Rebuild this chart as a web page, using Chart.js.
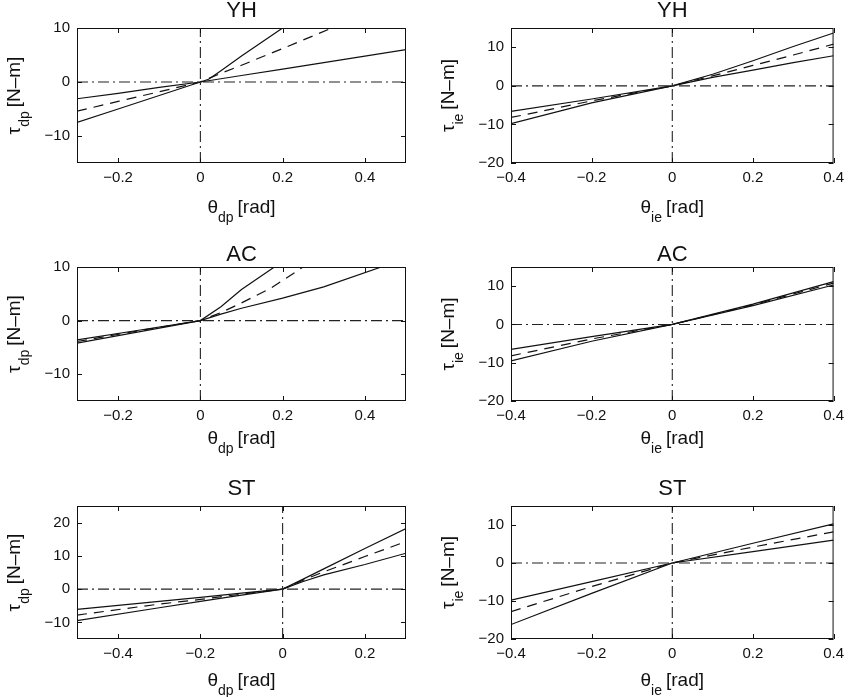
<!DOCTYPE html>
<html>
<head>
<meta charset="utf-8">
<script src="https://cdn.jsdelivr.net/npm/chart.js@4"></script>
<style>
  body { margin: 0; background: #fff; }
  #wrap { position: relative; width: 850px; height: 697px; }
  #wrap canvas { position: absolute; }
</style>
</head>
<body>
<div id="wrap"></div>
<script>
// --- axis ranges and tick labels ---
const dpRangeX = [-0.3, 0.5];
const dpRangeY = [-15, 10];
const dpTicksX = [-0.2, 0, 0.2, 0.4];
const dpTicksY = [-10, 0, 10];

const stDpRangeX = [-0.5, 0.3];
const stDpRangeY = [-15, 25];
const stDpTicksX = [-0.4, -0.2, 0, 0.2];
const stDpTicksY = [-10, 0, 10, 20];

const ieRangeX = [-0.4, 0.4];
const ieRangeY = [-20, 15];
const ieTicksX = [-0.4, -0.2, 0, 0.2, 0.4];
const ieTicksY = [-20, -10, 0, 10];

const panelTitles = ['YH', 'YH', 'AC', 'AC', 'ST', 'ST'];

// --- curves: [theta, tau] ---
const yhDpUpper = [[-0.3,-7.5],[-0.2,-5.0],[-0.1,-2.5],[0,0],[0.02,0.5],[0.05,2.1],[0.1,4.8],[0.15,7.4],[0.2,10]];
const yhDpMid   = [[-0.3,-5.4],[-0.2,-3.6],[-0.1,-1.8],[0,0],[0.05,1.6],[0.1,3.1],[0.2,6.2],[0.32,10]];
const yhDpLower = [[-0.3,-3.1],[-0.2,-2.1],[-0.1,-1.0],[0,0],[0.1,1.2],[0.2,2.4],[0.3,3.6],[0.4,4.8],[0.5,6.0]];

const yhIeUpper = [[-0.4,-9.8],[-0.2,-4.4],[0,0],[0.1,3.0],[0.2,6.5],[0.3,10.2],[0.4,13.7]];
const yhIeMid   = [[-0.4,-8.2],[-0.2,-3.9],[0,0],[0.1,2.6],[0.2,5.3],[0.3,8.0],[0.4,10.8]];
const yhIeLower = [[-0.4,-6.6],[-0.2,-3.4],[0,0],[0.1,2.2],[0.2,4.1],[0.3,6.0],[0.4,7.8]];

const acDpUpper = [[-0.3,-4.2],[-0.15,-2.1],[0,0],[0.05,2.6],[0.1,5.8],[0.14,7.9],[0.18,10]];
const acDpMid   = [[-0.3,-3.9],[-0.15,-1.9],[0,0],[0.05,1.5],[0.1,3.3],[0.17,6.0],[0.25,10]];
const acDpLower = [[-0.3,-3.6],[-0.15,-1.8],[0,0],[0.05,1.2],[0.1,2.3],[0.2,4.2],[0.3,6.3],[0.44,10]];

const acIeUpper = [[-0.4,-9.5],[-0.2,-4.4],[0,0],[0.2,5.3],[0.4,11.2]];
const acIeMid   = [[-0.4,-8.2],[-0.2,-3.8],[0,0],[0.2,5.1],[0.4,10.8]];
const acIeLower = [[-0.4,-6.5],[-0.2,-3.2],[0,0],[0.2,4.9],[0.4,10.3]];

const stDpUpper = [[-0.5,-9.5],[-0.3,-5.6],[-0.2,-3.7],[-0.1,-1.8],[0,0],[0.05,3.0],[0.1,6.1],[0.2,12.2],[0.3,18.2]];
const stDpMid   = [[-0.5,-7.8],[-0.3,-4.5],[-0.2,-3.1],[-0.1,-1.5],[0,0],[0.05,2.7],[0.1,5.2],[0.2,9.8],[0.3,14.3]];
const stDpLower = [[-0.5,-6.1],[-0.3,-3.7],[-0.2,-2.5],[-0.1,-1.2],[0,0],[0.05,2.3],[0.1,4.3],[0.2,7.4],[0.3,10.8]];

const stIeUpper = [[-0.4,-16.2],[-0.2,-8.0],[0,0],[0.2,5.2],[0.4,10.3]];
const stIeMid   = [[-0.4,-12.8],[-0.2,-6.2],[0,0],[0.2,4.2],[0.4,8.2]];
const stIeLower = [[-0.4,-9.8],[-0.2,-4.9],[0,0],[0.2,3.0],[0.4,6.0]];

// --- page layout (px) ---
const colLeft = [77, 511], colRight = [406, 838];
const rowTop = [28, 267, 506], rowBottom = [163, 401, 639];
const canvasTop = [0, 230, 460], canvasH = [230, 230, 237];
const titleBase = [17, 261, 495];
const xLabelBase = [213, 444, 686];
const Y_AXIS_W = 60, X_AXIS_H = 25;
const FONT = '"Liberation Sans", Arial, sans-serif';

Chart.defaults.font.family = FONT;
Chart.defaults.color = '#111';

const fmt = v => v < 0 ? '\u2212' + Math.abs(v) : String(v);
const pts = arr => arr.map(p => ({ x: p[0], y: p[1] }));

// draws box, inward ticks, title and axis labels (with subscripts)
const framePlugin = {
  id: 'frame',
  afterDraw(chart) {
    const o = chart.options.plugins.frame;
    const { ctx, chartArea: a, scales } = chart;
    ctx.save();
    ctx.strokeStyle = '#111';
    ctx.lineWidth = 1;
    ctx.strokeRect(a.left + 0.5, a.top + 0.5, a.right - a.left - 1, a.bottom - a.top - 1);
    ctx.beginPath();
    scales.x.ticks.forEach(t => {
      const px = Math.round(scales.x.getPixelForValue(t.value)) + 0.5;
      ctx.moveTo(px, a.bottom); ctx.lineTo(px, a.bottom - 5);
      ctx.moveTo(px, a.top); ctx.lineTo(px, a.top + 5);
    });
    scales.y.ticks.forEach(t => {
      const py = Math.round(scales.y.getPixelForValue(t.value)) + 0.5;
      ctx.moveTo(a.left, py); ctx.lineTo(a.left + 5, py);
      ctx.moveTo(a.right, py); ctx.lineTo(a.right - 5, py);
    });
    ctx.stroke();

    ctx.fillStyle = '#111';
    const cx = (a.left + a.right) / 2;
    ctx.font = '22px ' + FONT;
    ctx.textAlign = 'center';
    ctx.textBaseline = 'alphabetic';
    ctx.fillText(o.title, cx, o.titleY);

    // label with subscript, drawn left to right from x0 at baseline
    const drawLabel = (sym, sub, rest, x0, base) => {
      ctx.textAlign = 'left';
      ctx.font = '19px ' + FONT;
      ctx.fillText(sym, x0, base);
      let x = x0 + ctx.measureText(sym).width;
      ctx.font = '14px ' + FONT;
      ctx.fillText(sub, x, base + 9);
      x += ctx.measureText(sub).width;
      ctx.font = '19px ' + FONT;
      ctx.fillText(rest, x + 4, base);
    };
    const width = (sym, sub, rest) => {
      ctx.font = '19px ' + FONT;
      let w = ctx.measureText(sym).width + ctx.measureText(rest).width + 4;
      ctx.font = '14px ' + FONT;
      return w + ctx.measureText(sub).width;
    };

    const wx = width('\u03b8', o.sub, '[rad]');
    drawLabel('\u03b8', o.sub, '[rad]', cx - wx / 2, o.xLabelY);

    const cy = (a.top + a.bottom) / 2;
    const wy = width('\u03c4', o.sub, '[N\u2013m]');
    ctx.translate(a.left - 57, cy);
    ctx.rotate(-Math.PI / 2);
    drawLabel('\u03c4', o.sub, '[N\u2013m]', -wy / 2, 0);
    ctx.restore();
  }
};

function curve(data, dashed) {
  return {
    data: pts(data), showLine: true, pointRadius: 0,
    borderColor: '#111', borderWidth: 1.2, borderDash: dashed ? [10, 7] : [],
    tension: 0
  };
}

function zeroLines(rx, ry) {
  const style = { showLine: true, pointRadius: 0, borderColor: '#222', borderWidth: 1.1, borderDash: [11, 4, 2, 4] };
  return [
    Object.assign({ data: [{ x: 0, y: ry[0] }, { x: 0, y: ry[1] }] }, style),
    Object.assign({ data: [{ x: rx[0], y: 0 }, { x: rx[1], y: 0 }] }, style)
  ];
}

function makePanel(idx, sub, rx, ry, tx, ty, curves) {
  const col = idx % 2, row = Math.floor(idx / 2);
  const cLeft = col * 425, cW = 425, cTop = canvasTop[row], cH = canvasH[row];
  const canvas = document.createElement('canvas');
  canvas.width = cW; canvas.height = cH;
  canvas.style.left = cLeft + 'px'; canvas.style.top = cTop + 'px';
  canvas.style.width = cW + 'px'; canvas.style.height = cH + 'px';
  document.getElementById('wrap').appendChild(canvas);

  const datasets = zeroLines(rx, ry).concat([
    curve(curves[0], false), curve(curves[1], true), curve(curves[2], false)
  ]);

  new Chart(canvas, {
    type: 'scatter',
    data: { datasets },
    plugins: [framePlugin],
    options: {
      responsive: false,
      animation: false,
      devicePixelRatio: 1,
      layout: {
        padding: {
          left: colLeft[col] - cLeft - Y_AXIS_W,
          right: cLeft + cW - colRight[col],
          top: rowTop[row] - cTop,
          bottom: cTop + cH - rowBottom[row] - X_AXIS_H
        }
      },
      plugins: {
        legend: { display: false },
        tooltip: { enabled: false },
        frame: { title: panelTitles[idx], titleY: titleBase[row] - cTop, xLabelY: xLabelBase[row] - cTop, sub }
      },
      scales: {
        x: {
          type: 'linear', min: rx[0], max: rx[1],
          grid: { display: false, drawTicks: false }, border: { display: false },
          ticks: { font: { size: 15 }, padding: 6, autoSkip: false, maxRotation: 0, callback: fmt },
          afterBuildTicks: s => { s.ticks = tx.map(v => ({ value: v })); },
          afterFit: s => { s.height = X_AXIS_H; }
        },
        y: {
          type: 'linear', min: ry[0], max: ry[1],
          grid: { display: false, drawTicks: false }, border: { display: false },
          ticks: { font: { size: 15 }, padding: 7, autoSkip: false, callback: fmt },
          afterBuildTicks: s => { s.ticks = ty.map(v => ({ value: v })); },
          afterFit: s => { s.width = Y_AXIS_W; }
        }
      }
    }
  });
}

makePanel(0, 'dp', dpRangeX, dpRangeY, dpTicksX, dpTicksY, [yhDpUpper, yhDpMid, yhDpLower]);
makePanel(1, 'ie', ieRangeX, ieRangeY, ieTicksX, ieTicksY, [yhIeUpper, yhIeMid, yhIeLower]);
makePanel(2, 'dp', dpRangeX, dpRangeY, dpTicksX, dpTicksY, [acDpUpper, acDpMid, acDpLower]);
makePanel(3, 'ie', ieRangeX, ieRangeY, ieTicksX, ieTicksY, [acIeUpper, acIeMid, acIeLower]);
makePanel(4, 'dp', stDpRangeX, stDpRangeY, stDpTicksX, stDpTicksY, [stDpUpper, stDpMid, stDpLower]);
makePanel(5, 'ie', ieRangeX, ieRangeY, ieTicksX, ieTicksY, [stIeUpper, stIeMid, stIeLower]);
</script>
</body>
</html>
